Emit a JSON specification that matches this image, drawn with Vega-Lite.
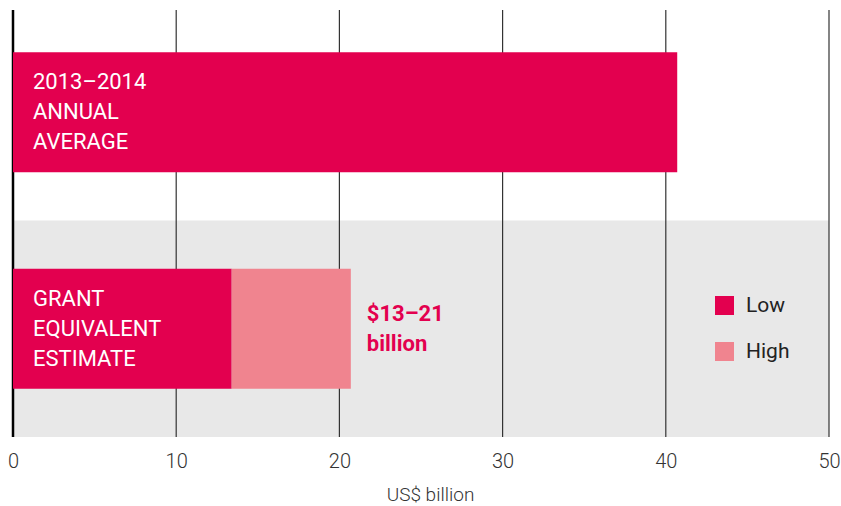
{
  "$schema": "https://vega.github.io/schema/vega-lite/v6.json",
  "width": 816,
  "height": 427,
  "autosize": "none",
  "padding": {"left": 13, "top": 10, "right": 12, "bottom": 69},
  "background": "white",
  "config": {"view": {"stroke": null}, "font": "Roboto"},
  "datasets": {
    "bands": [{"category": "Grant", "x0": 0, "x1": 50}],
    "grid": [{"g": 0}, {"g": 10}, {"g": 20}, {"g": 30}, {"g": 40}, {"g": 50}],
    "bars": [
      {"category": "Annual", "series": "Annual", "start": 0, "end": 40.7},
      {"category": "Grant", "series": "Low", "start": 0, "end": 13.4},
      {"category": "Grant", "series": "High", "start": 13.4, "end": 20.7}
    ],
    "labels": [
      {"category": "Annual", "label": "2013–2014\nANNUAL\nAVERAGE", "x": 0},
      {"category": "Grant", "label": "GRANT\nEQUIVALENT\nESTIMATE", "x": 0}
    ],
    "range": [{"category": "Grant", "label": "$13–21\nbillion", "x": 20.7}]
  },
  "layer": [
    {
      "data": {"name": "bands"},
      "mark": {"type": "rect", "color": "#E8E8E8"},
      "encoding": {
        "y": {"field": "category", "type": "nominal", "axis": null,
          "scale": {"domain": ["Annual", "Grant"], "paddingInner": 0, "paddingOuter": 0, "range": [-6, 427]}},
        "x": {"field": "x0", "type": "quantitative", "scale": {"domain": [0, 50], "nice": false},
          "axis": {"title": "US$ billion", "values": [0, 10, 20, 30, 40, 50], "grid": false, "ticks": false, "domain": false,
            "labelFlush": false,
            "labelFontSize": 20, "labelColor": "#333", "labelPadding": 14, "labelFont": "Roboto", "labelFontWeight": 300,
            "titleFontSize": 19, "titleColor": "#333", "titleFont": "Roboto", "titleFontWeight": 300, "titlePadding": 14,
            "titleX": 417, "titleAlign": "center"}},
        "x2": {"field": "x1"}
      }
    },
    {
      "data": {"name": "grid"},
      "mark": {"type": "rule", "color": "#333", "strokeWidth": 1.2},
      "encoding": {"x": {"field": "g", "type": "quantitative"}}
    },
    {
      "data": {"name": "grid"},
      "transform": [{"filter": "datum.g === 0"}],
      "mark": {"type": "rule", "color": "#000", "strokeWidth": 2.5},
      "encoding": {"x": {"field": "g", "type": "quantitative"}}
    },
    {
      "data": {"name": "bars"},
      "mark": {"type": "bar", "height": {"band": 0.555}},
      "encoding": {
        "y": {"field": "category", "type": "nominal"},
        "x": {"field": "start", "type": "quantitative"},
        "x2": {"field": "end"},
        "color": {"field": "series", "type": "nominal",
          "scale": {"domain": ["Low", "High", "Annual"], "range": ["#E3004F", "#F0848F", "#E3004F"]},
          "legend": {"title": null, "values": ["Low", "High"], "orient": "none", "legendX": 701, "legendY": 285,
            "symbolType": "square", "symbolSize": 361, "symbolStrokeWidth": 0, "symbolOpacity": 1,
            "labelFontSize": 21, "labelColor": "#222", "labelFont": "Roboto", "labelOffset": 11,
            "rowPadding": 24, "padding": 0}}
      }
    },
    {
      "data": {"name": "labels"},
      "mark": {"type": "text", "align": "left", "baseline": "middle", "dx": 20, "dy": -30, "fontSize": 22, "lineHeight": 30,
        "color": "white", "font": "Roboto", "lineBreak": "\n"},
      "encoding": {
        "y": {"field": "category", "type": "nominal"},
        "x": {"field": "x", "type": "quantitative"},
        "text": {"field": "label"}
      }
    },
    {
      "data": {"name": "range"},
      "mark": {"type": "text", "align": "left", "baseline": "middle", "dx": 16, "dy": -15, "fontSize": 22, "lineHeight": 30,
        "color": "#E3004F", "fontWeight": "bold", "font": "Roboto", "lineBreak": "\n"},
      "encoding": {
        "y": {"field": "category", "type": "nominal"},
        "x": {"field": "x", "type": "quantitative"},
        "text": {"field": "label"}
      }
    }
  ]
}
